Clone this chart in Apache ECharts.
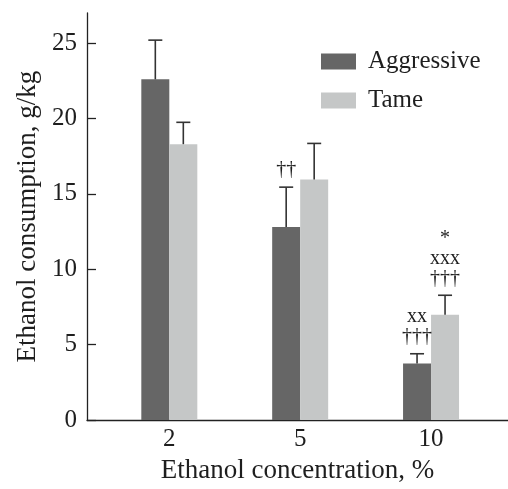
<!DOCTYPE html>
<html>
<head>
<meta charset="utf-8">
<script src="https://cdn.jsdelivr.net/npm/echarts@6/dist/echarts.min.js"></script>
<style>
html, body { margin: 0; padding: 0; background: #fff; }
#chart { width: 508px; height: 489px; }
</style>
</head>
<body>
<div id="chart"></div>
<script>
var concentrations = ['2', '5', '10'];
var aggressive = [22.6, 12.8, 3.75];
var aggressiveErr = [2.6, 2.65, 0.65];
var tame = [18.3, 15.95, 6.98];
var tameErr = [1.45, 2.4, 1.3];
var aggressiveMarks = ['', '\u2020\u2020', 'xx\n\u2020\u2020\u2020'];
var tameMarks = ['', '', '*\nxxx\n\u2020\u2020\u2020'];
var yTicks = [0, 5, 10, 15, 20, 25];

var FONT = 'Liberation Serif';
var INK = '#1e1e1e';
var BAR_WIDTH = 28;
var xPos = concentrations.map(function (c, i) { return i; });

function barData(values) {
    return values.map(function (v, i) { return [xPos[i], v]; });
}

// error bar (upward only) plus significance marks above it
function errorItem(marks, side) {
    return function (params, api) {
        var top = api.coord([api.value(0), api.value(1)]);
        var bottomY = api.coord([api.value(0), api.value(2)])[1];
        var cx = top[0] + side * BAR_WIDTH / 2;
        var children = [
            {type: 'line', shape: {x1: cx, y1: bottomY, x2: cx, y2: top[1]},
             style: {stroke: '#333', lineWidth: 1.6}},
            {type: 'line', shape: {x1: cx - 7, y1: top[1], x2: cx + 7, y2: top[1]},
             style: {stroke: '#333', lineWidth: 1.6}}
        ];
        var txt = marks[params.dataIndex];
        if (txt) {
            children.push({
                type: 'text',
                x: cx,
                y: top[1] - 7,
                style: {
                    text: txt, fontFamily: FONT, fontSize: 20, lineHeight: 20,
                    fill: INK, align: 'center', verticalAlign: 'bottom'
                }
            });
        }
        return {type: 'group', children: children};
    };
}

function errSeriesData(values, errs) {
    return values.map(function (v, i) { return [xPos[i], v + errs[i], v]; });
}

var chart = echarts.init(document.getElementById('chart'));
chart.setOption({
    animation: false,
    backgroundColor: '#ffffff',
    textStyle: {fontFamily: FONT, color: INK},
    grid: {left: 87, right: 0, top: 13, bottom: 66, containLabel: false},
    legend: {
        data: ['Aggressive', 'Tame'],
        orient: 'vertical',
        left: 321,
        top: 49,
        padding: 0,
        itemWidth: 35,
        itemHeight: 16,
        itemGap: 14,
        icon: 'rect',
        textStyle: {fontFamily: FONT, fontSize: 25, color: INK, padding: [0, 0, 0, 7]}
    },
    xAxis: {
        type: 'value',
        min: -0.629,
        max: 2.588,
        name: 'Ethanol concentration, %',
        nameLocation: 'middle',
        nameGap: 36,
        nameTextStyle: {fontFamily: FONT, fontSize: 27, color: INK},
        axisLine: {show: true, onZero: false, lineStyle: {color: '#222', width: 1.3}},
        axisTick: {show: false},
        splitLine: {show: false},
        axisLabel: {
            customValues: xPos,
            margin: 7,
            fontFamily: FONT, fontSize: 25, color: INK,
            formatter: function (v) { return concentrations[Math.round(v)]; }
        }
    },
    yAxis: {
        type: 'value',
        min: 0,
        max: 27,
        name: 'Ethanol consumption, g/kg',
        nameLocation: 'middle',
        nameGap: 45,
        nameTextStyle: {fontFamily: FONT, fontSize: 27, color: INK},
        axisLine: {show: true, onZero: false, lineStyle: {color: '#222', width: 1.3}},
        axisTick: {show: true, inside: true, length: 9, customValues: yTicks,
                   lineStyle: {color: '#222', width: 1.3}},
        splitLine: {show: false},
        axisLabel: {customValues: yTicks, margin: 10, fontFamily: FONT, fontSize: 25, color: INK}
    },
    series: [
        {name: 'Aggressive', type: 'bar', barWidth: BAR_WIDTH, barGap: '0%',
         itemStyle: {color: '#666666'}, data: barData(aggressive)},
        {name: 'Tame', type: 'bar', barWidth: BAR_WIDTH, barGap: '0%',
         itemStyle: {color: '#c5c7c7'}, data: barData(tame)},
        {name: 'errA', type: 'custom', renderItem: errorItem(aggressiveMarks, -1),
         encode: {x: 0, y: 1}, z: 3, data: errSeriesData(aggressive, aggressiveErr)},
        {name: 'errT', type: 'custom', renderItem: errorItem(tameMarks, 1),
         encode: {x: 0, y: 1}, z: 3, data: errSeriesData(tame, tameErr)}
    ]
});
</script>
</body>
</html>
